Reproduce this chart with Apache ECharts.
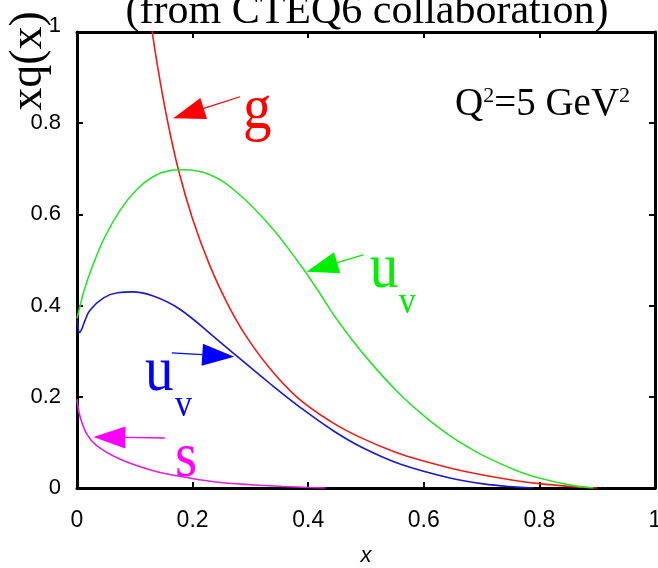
<!DOCTYPE html>
<html>
<head>
<meta charset="utf-8">
<script src="https://cdn.jsdelivr.net/npm/echarts@6/dist/echarts.min.js"></script>
<style>
html, body { margin: 0; padding: 0; background: #fff; }
#main { width: 658px; height: 568px; }
</style>
</head>
<body>
<div id="main"></div>
<script>
// Parton distributions xq(x) at Q^2 = 5 GeV^2, as [x, xq(x)] pairs
const gluon = [
  [0.100, 1.36], [0.115, 1.16], [0.128, 1.02], [0.140, 0.920], [0.155, 0.815],
  [0.175, 0.700], [0.200, 0.590], [0.230, 0.487], [0.260, 0.405], [0.290, 0.338],
  [0.330, 0.268], [0.380, 0.200], [0.440, 0.145], [0.490, 0.111], [0.550, 0.079],
  [0.600, 0.059], [0.645, 0.044], [0.700, 0.029], [0.760, 0.016], [0.800, 0.0095],
  [0.850, 0.0035], [0.880, 0.001], [0.900, 0.000]
];
const uValenceA = [
  [0.000, 0.372], [0.005, 0.398], [0.012, 0.432], [0.0225, 0.472], [0.046, 0.545],
  [0.075, 0.610], [0.103, 0.654], [0.132, 0.683], [0.160, 0.696], [0.184, 0.698],
  [0.230, 0.687], [0.277, 0.648], [0.334, 0.575], [0.386, 0.490], [0.420, 0.427],
  [0.450, 0.369], [0.500, 0.287], [0.560, 0.204], [0.617, 0.141], [0.645, 0.115],
  [0.675, 0.091], [0.703, 0.071], [0.761, 0.038], [0.800, 0.022], [0.847, 0.008],
  [0.893, 0.000]
];
const uValenceB = [
  [0.000, 0.369], [0.002, 0.350], [0.004, 0.341], [0.008, 0.348], [0.014, 0.368],
  [0.0225, 0.390], [0.046, 0.417], [0.070, 0.428], [0.095, 0.430], [0.132, 0.421],
  [0.178, 0.392], [0.242, 0.326], [0.273, 0.293], [0.330, 0.233], [0.386, 0.177],
  [0.444, 0.125], [0.496, 0.087], [0.560, 0.052], [0.645, 0.022], [0.703, 0.009],
  [0.761, 0.002], [0.790, 0.000]
];
const strange = [
  [0.000, 0.195], [0.005, 0.158], [0.017, 0.118], [0.034, 0.093], [0.075, 0.063],
  [0.132, 0.038], [0.190, 0.023], [0.248, 0.012], [0.334, 0.005], [0.400, 0.001],
  [0.430, 0.000]
];

// Axis ranges and tick step
const xRange = [0, 1];
const yRange = [0, 1];
const tickStep = 0.2;

// Curve labels with arrows, in data coordinates
const curveLabels = [
  { text: 'g', sub: '', at: [0.287, 0.794], color: '#ff0000', tail: [0.282, 0.858], tip: [0.1665, 0.811] },
  { text: 'u', sub: 'v', at: [0.5065, 0.445], subAt: [0.5566, 0.387], color: '#00ee00', tail: [0.495, 0.511], tip: [0.397, 0.474] },
  { text: 'u', sub: 'v', at: [0.1175, 0.220], subAt: [0.1694, 0.161], color: '#0000ff', tail: [0.164, 0.2965], tip: [0.272, 0.288] },
  { text: 's', sub: '', at: [0.1694, 0.031], color: '#ff00ff', tail: [0.152, 0.1096], tip: [0.0282, 0.1118] }
];

const chart = echarts.init(document.getElementById('main'), null, { renderer: 'canvas' });

const axisLineStyle = { color: '#000', width: 3 };
const tickStyle = { color: '#000', width: 2 };

function xAxisCfg(pos, withLabels) {
  return {
    type: 'value', position: pos, min: xRange[0], max: xRange[1], interval: tickStep,
    axisLine: { show: true, onZero: false, lineStyle: axisLineStyle },
    axisTick: { show: true, inside: true, length: 6, lineStyle: tickStyle },
    axisLabel: {
      show: withLabels, margin: 21, showMaxLabel: true, showMinLabel: true, hideOverlap: false,
      fontFamily: 'Liberation Sans', fontSize: 23, color: '#000'
    },
    splitLine: { show: false }
  };
}
function yAxisCfg(pos, withLabels) {
  return {
    type: 'value', position: pos, min: yRange[0], max: yRange[1], interval: tickStep,
    axisLine: { show: true, onZero: false, lineStyle: axisLineStyle },
    axisTick: { show: true, inside: true, length: 6, lineStyle: tickStyle },
    axisLabel: {
      show: withLabels, margin: 16, showMaxLabel: true, showMinLabel: true,
      fontFamily: 'Liberation Sans', fontSize: 22, color: '#000',
      formatter: v => (v === yRange[1] ? '{top|' + v + '}' : String(v)),
      rich: { top: { fontFamily: 'Liberation Sans', fontSize: 22, color: '#000', padding: [0, 0, 12, 0] } }
    },
    splitLine: { show: false }
  };
}

const xMain = xAxisCfg('bottom', true);
xMain.name = 'x';
xMain.nameLocation = 'middle';
xMain.nameGap = 57;
xMain.nameTextStyle = { fontFamily: 'Liberation Sans', fontStyle: 'italic', fontSize: 22, color: '#000' };

function lineSeries(data, color) {
  return {
    type: 'line', data: data, xAxisIndex: 0, yAxisIndex: 0,
    showSymbol: false, smooth: 0.4, clip: true,
    lineStyle: { color: color, width: 1.6 }, silent: true
  };
}

chart.setOption({
  animation: false,
  backgroundColor: '#fff',
  grid: { left: 77, right: 3, top: 32, bottom: 80, containLabel: false, outerBoundsMode: 'none' },
  xAxis: [xMain, xAxisCfg('top', false)],
  yAxis: [yAxisCfg('left', true), yAxisCfg('right', false)],
  series: [
    lineSeries(gluon, '#ec1c1c'),
    lineSeries(uValenceA, '#2ee02e'),
    lineSeries(uValenceB, '#1a1acc'),
    lineSeries(strange, '#e020e0')
  ]
});

// Annotation layer: text and arrows placed through the grid's coordinate system
const serif = '"Liberation Serif", "Times New Roman", serif';
const toPx = p => chart.convertToPixel({ gridIndex: 0 }, p);
const MID = 0.23; // em-middle to baseline, as a fraction of the font size

function serifText(str, px, size, color, scaleY, align) {
  return {
    type: 'text', x: px[0], y: px[1], scaleY: scaleY, z: 100,
    style: {
      text: str, x: 0, y: -MID * size,
      font: size + 'px ' + serif, fill: color,
      align: align || 'left', verticalAlign: 'middle',
      textAlign: align || 'left', textVerticalAlign: 'middle'
    }
  };
}

function arrow(tailD, tipD, color) {
  const a = toPx(tailD), b = toPx(tipD);
  const dx = b[0] - a[0], dy = b[1] - a[1];
  const len = Math.hypot(dx, dy);
  const ux = dx / len, uy = dy / len;
  const headLen = 32, headHalf = 11;
  const bx = b[0] - ux * headLen, by = b[1] - uy * headLen;
  return [
    { type: 'line', z: 100, shape: { x1: a[0], y1: a[1], x2: bx, y2: by }, style: { stroke: color, lineWidth: 1.3 } },
    { type: 'polygon', z: 100, shape: { points: [[b[0], b[1]], [bx - uy * headHalf, by + ux * headHalf], [bx + uy * headHalf, by - ux * headHalf]] }, style: { fill: color } }
  ];
}

const graphics = [];
curveLabels.forEach(c => {
  graphics.push(serifText(c.text, toPx(c.at), 57, c.color, 1.1));
  if (c.sub) graphics.push(serifText(c.sub, toPx(c.subAt), 34, c.color, 1.1));
  arrow(c.tail, c.tip, c.color).forEach(g => graphics.push(g));
});

// Title (partly above the canvas), y-axis title and scale note
graphics.push(serifText('(from CTEQ6 collaboration)', [367, 22], 42, '#000', 1, 'center'));
graphics.push({
  type: 'text', x: 29, y: 61, rotation: Math.PI / 2, z: 100,
  style: {
    text: 'xq(x)', x: 0, y: 0, font: '46px ' + serif, fill: '#000',
    align: 'center', verticalAlign: 'middle', textAlign: 'center', textVerticalAlign: 'middle'
  }
});
graphics.push({
  type: 'text', x: 455, y: 115, z: 100,
  style: {
    text: '{n|Q}{p|2}{n|=5 GeV}{p|2}', x: 0, y: -0.3375 * 39 + 3,
    font: '39px ' + serif, fill: '#000',
    align: 'left', verticalAlign: 'middle', textAlign: 'left', textVerticalAlign: 'middle',
    rich: {
      n: { fontSize: 39, fontFamily: serif, fill: '#000', verticalAlign: 'bottom' },
      p: { fontSize: 22, fontFamily: serif, fill: '#000', verticalAlign: 'top' }
    }
  }
});

chart.setOption({ graphic: graphics });
</script>
</body>
</html>
